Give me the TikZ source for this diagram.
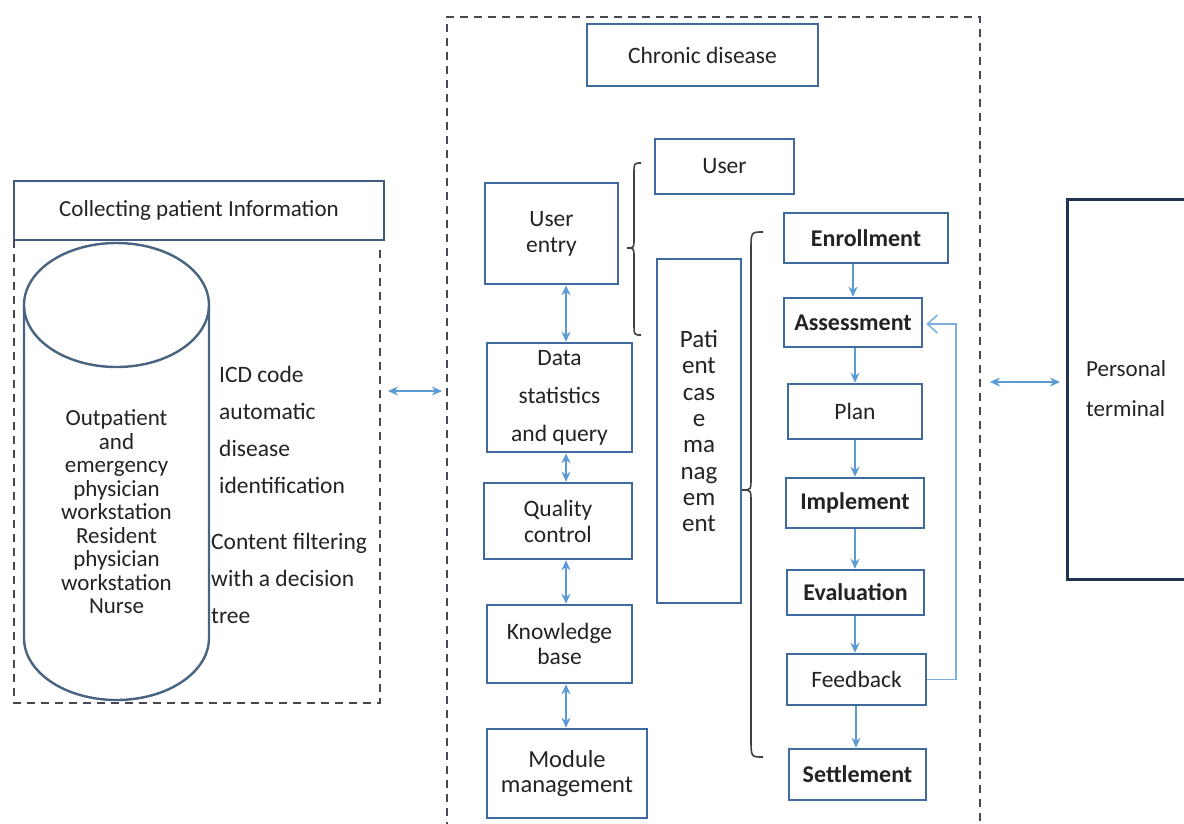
\documentclass[tikz,border=0pt]{standalone}
\usepackage{fontspec}
\setmainfont{Carlito}
\usetikzlibrary{arrows.meta}
\definecolor{boxblue}{RGB}{62,106,160}
\definecolor{headblue}{RGB}{65,92,128}
\definecolor{cylblue}{RGB}{72,100,128}
\definecolor{arrblue}{RGB}{91,155,213}
\definecolor{termblue}{RGB}{35,50,80}
\definecolor{dashgray}{RGB}{70,72,82}
\definecolor{textgray}{RGB}{35,35,35}
\begin{document}
\begin{tikzpicture}[x=1pt,y=-1pt,
  box/.style={draw=boxblue, line width=2.6pt, inner sep=0pt, text=textgray, align=center,
    font=\fontsize{23.5}{26}\selectfont},
  bbox/.style={box, font=\fontsize{24}{26}\bfseries\selectfont},
  dashline/.style={draw=dashgray, line width=2.6pt, dash pattern=on 8pt off 6pt},
  biarrow/.style={draw=arrblue, line width=2.4pt, {Stealth[length=10pt,width=9pt]}-{Stealth[length=10pt,width=9pt]}},
  downarrow/.style={draw=arrblue, line width=2.4pt, -{Stealth[length=10pt,width=9pt]}},
  looparrow/.style={draw=arrblue!80, line width=1.5pt, -{Straight Barb[length=10pt,width=18pt]}},
  bracestyle/.style={draw=black!75, line width=1.6pt},
  plain/.style={inner sep=0pt, text=textgray, font=\fontsize{23.5}{26}\selectfont}
]
\clip (0,0) rectangle (1184,823);
\fill[white] (0,0) rectangle (1184,823);

% ---------- left part ----------
\node[draw=headblue, line width=2.6pt, minimum width=370pt, minimum height=59pt, inner sep=0pt,
  text=textgray, font=\fontsize{23}{26}\selectfont] (head) at (199,210.5) {Collecting patient Information};
\draw[dashline] (14,240) -- (14,703) -- (380,703) -- (380,246);
\coordinate (leftR) at (384,391);

% cylinder
\draw[draw=cylblue, line width=2.4pt] (24,305) -- (24,638) arc[start angle=180, end angle=360, x radius=92.5, y radius=-62] -- (209,305);
\draw[draw=cylblue, line width=2.4pt] (116.5,305) ellipse[x radius=92.5, y radius=62];
\node[plain, align=center, font=\fontsize{23}{23.5}\selectfont] (cyltext) at (116.5,512)
  {Outpatient\\and\\emergency\\physician\\workstation\\Resident\\physician\\workstation\\Nurse};

\node[plain, align=left, anchor=west, font=\fontsize{23.5}{37}\selectfont] (icd) at (219,430)
  {ICD code\\automatic\\disease\\identification};
\node[plain, align=left, anchor=west, font=\fontsize{23.5}{37}\selectfont] (filter) at (211,578)
  {Content filtering\\with a decision\\tree};

% ---------- central part ----------
\draw[dashline] (447,830) -- (447,17) -- (980,17) -- (980,830);
\coordinate (midL) at (445,391);
\coordinate (midR) at (982,382);

\node[box, minimum width=231pt, minimum height=62pt] (chronic) at (702.5,55) {Chronic disease};
\node[box, minimum width=139pt, minimum height=55pt] (user) at (724.5,166.5) {User};
\node[box, minimum width=133pt, minimum height=101pt] (uentry) at (551.5,233.5) {User\\entry};
\node[box, minimum width=145pt, minimum height=109pt, font=\fontsize{23.5}{38}\selectfont] (data) at (559.5,397.5) {Data\\statistics\\and query};
\node[box, minimum width=148pt, minimum height=76pt] (quality) at (558,521) {Quality\\control};
\node[box, minimum width=145pt, minimum height=78pt, font=\fontsize{23.5}{25}\selectfont] (know) at (559.5,644) {Knowledge\\base};
\node[box, minimum width=160pt, minimum height=89pt, font=\fontsize{24.5}{25}\selectfont] (module) at (567,773.5) {Module\\management};
\node[box, minimum width=84pt, minimum height=344pt, font=\fontsize{25}{26.3}\selectfont] (pcm) at (699,431) {Pati\\ent\\cas\\e\\ma\\nag\\em\\ent};

\draw[biarrow] (uentry.south -| 566,0) -- (data.north -| 566,0);
\draw[biarrow] (data.south -| 566,0) -- (quality.north -| 566,0);
\draw[biarrow] (quality.south -| 566,0) -- (know.north -| 566,0);
\draw[biarrow] (know.south -| 566,0) -- (module.north -| 566,0);

% braces
\draw[bracestyle] (641,163) .. controls (634,163) .. (634,175) -- (634,238)
  .. controls (634,248) .. (627,248) .. controls (634,248) .. (634,258) -- (634,323)
  .. controls (634,335) .. (641,335);
\draw[bracestyle] (763,232) .. controls (751,232) .. (751,250) -- (751,478)
  .. controls (751,490) .. (742,490) .. controls (751,490) .. (751,502) -- (751,739)
  .. controls (751,757) .. (763,757);

% right column
\node[bbox, minimum width=164pt, minimum height=50pt] (enroll) at (866,238) {Enrollment};
\node[bbox, minimum width=138pt, minimum height=49pt] (assess) at (853,322.5) {Assessment};
\node[box, minimum width=134pt, minimum height=55pt] (plan) at (855,411.5) {Plan};
\node[bbox, minimum width=138pt, minimum height=50pt] (impl) at (855,503) {Implement};
\node[bbox, minimum width=137pt, minimum height=45pt] (eval) at (855.5,592.5) {Evaluation};
\node[box, minimum width=139pt, minimum height=51pt] (feed) at (856.5,679.5) {Feedback};
\node[bbox, minimum width=137pt, minimum height=51pt] (settle) at (857.5,774.5) {Settlement};

\draw[downarrow] (enroll.south -| 853,0) -- (assess.north -| 853,0);
\draw[downarrow] (assess.south -| 855,0) -- (plan.north -| 855,0);
\draw[downarrow] (plan.south -| 855,0) -- (impl.north -| 855,0);
\draw[downarrow] (impl.south -| 855,0) -- (eval.north -| 855,0);
\draw[downarrow] (eval.south -| 855,0) -- (feed.north -| 855,0);
\draw[downarrow] (feed.south -| 856,0) -- (settle.north -| 856,0);
\draw[looparrow] (feed.east) -- (956,679.5) -- (956,324) -- ([xshift=3pt]assess.east |- 0,324);

% ---------- right part ----------
\node[draw=termblue, line width=3pt, anchor=north west, minimum width=140pt, minimum height=380pt, inner sep=0pt] (term) at (1066,198) {};
\node[plain, align=left, anchor=west, font=\fontsize{23}{40}\selectfont] (termtext) at (1086,389) {Personal\\terminal};

\draw[biarrow] ([xshift=4pt]leftR) -- ([xshift=-3pt]midL);
\draw[biarrow] ([xshift=8pt]midR) -- ([xshift=-6pt]term.west |- midR);
\end{tikzpicture}
\end{document}
